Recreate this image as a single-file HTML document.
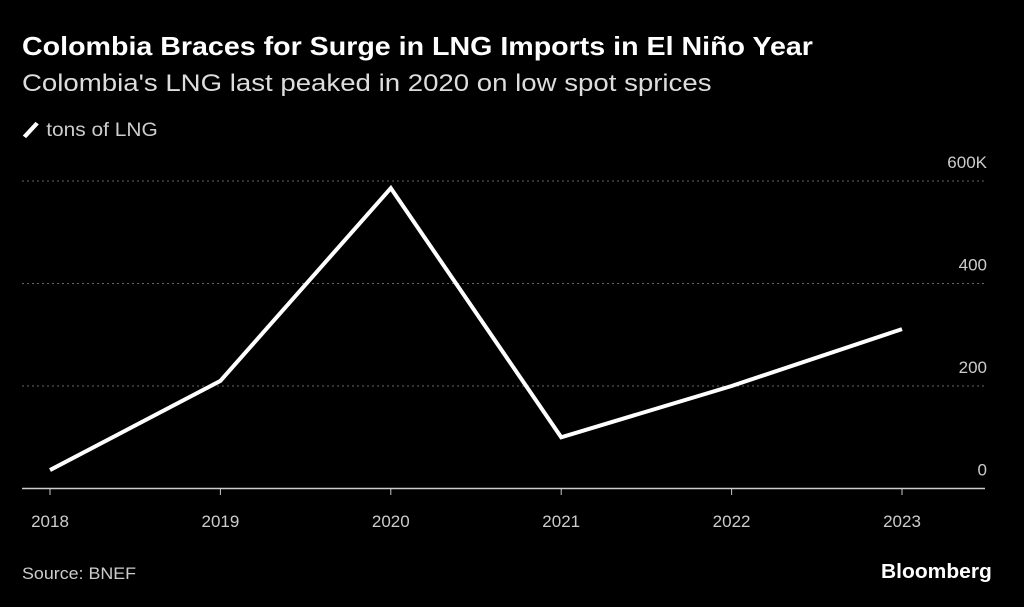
<!DOCTYPE html>
<html><head><meta charset="utf-8">
<style>
body{margin:0;background:#000;width:1024px;height:607px;overflow:hidden;font-family:"Liberation Sans",sans-serif;color:#fff}
.t{position:absolute;white-space:nowrap;transform-origin:left top}
</style></head><body>
<div class="t" style="left:22px;top:31px;font-size:26px;font-weight:bold;transform:scaleX(1.1)">Colombia Braces for Surge in LNG Imports in El Niño Year</div>
<div class="t" style="left:22px;top:70px;font-size:24px;color:#ddd;transform:scaleX(1.15)">Colombia's LNG last peaked in 2020 on low spot sprices</div>
<div class="t" style="left:22px;top:120px;font-size:19px;color:#ccc;transform:scaleX(1.1)"><span style="display:inline-block;width:4px;height:18px;background:#fff;transform:rotate(40deg);margin:0 12px -3px 6px"></span>tons of LNG</div>
<svg id="c" width="1024" height="607" style="position:absolute;left:0;top:0"></svg>
<div class="t" style="left:22px;top:564px;font-size:17px;color:#ccc;transform:scaleX(1.05)">Source: BNEF</div>
<div class="t" style="left:881px;top:561px;font-size:20px;font-weight:bold;transform:scaleX(1.05)">Bloomberg</div>
<script>
const years=["2018","2019","2020","2021","2022","2023"];
const values=[36,210,586,100,200,311];
const yTicks=[0,200,400,600];
const yTickLabels=["0","200","400","600K"];
const ns="http://www.w3.org/2000/svg",svg=document.getElementById('c');
const x=i=>50+i*170.4, y=v=>488.5-v*0.5125;
function mk(t,a){const e=document.createElementNS(ns,t);for(const k in a)e.setAttribute(k,a[k]);svg.appendChild(e);return e;}
yTicks.forEach((v,i)=>{
 if(v>0){const g=mk('line',{x1:22,x2:985,y1:y(v),y2:y(v),stroke:'#666','stroke-dasharray':'2,3'});
 
 }
 const t=mk('text',{x:987,y:y(v)-13,'text-anchor':'end',fill:'#ccc','font-size':17,'font-family':'Liberation Sans'});
 t.textContent=yTickLabels[i];
 
 
});
const ax=mk('line',{x1:22,x2:985,y1:488.5,y2:488.5,stroke:'#ccc','stroke-width':1.5});


years.forEach((yr,i)=>{
 const tk=mk('line',{x1:x(i),x2:x(i),y1:488.5,y2:495,stroke:'#ccc'});
 
 
 const t=mk('text',{x:x(i),y:527,'text-anchor':'middle',fill:'#ccc','font-size':17,'font-family':'Liberation Sans'});
 t.textContent=yr;
 
 
});
const p=mk('polyline',{points:values.map((v,i)=>x(i)+','+y(v)).join(' '),fill:'none',stroke:'#fff','stroke-width':4,'stroke-linejoin':'miter'});


</script>
</body></html>
